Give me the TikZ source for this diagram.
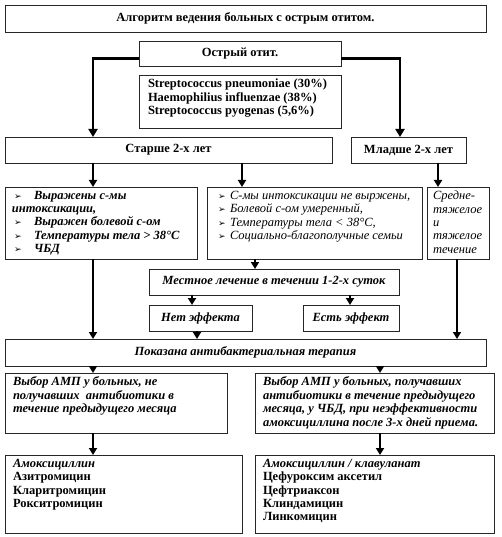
\documentclass[tikz,border=0pt]{standalone}
\usepackage{fontspec}
\setmainfont{Liberation Serif}
\newfontfamily\dingfont{DejaVu Sans}
\usetikzlibrary{arrows.meta}

% text held at the top of a box of fixed size
\newcommand{\boxtext}[3]{\parbox[c][#2][t]{#1}{\raggedright #3}}
\newcommand{\bul}[1]{\makebox[#1][l]{\hspace{2pt}\dingfont\fontsize{9}{9}\selectfont ➢}}

\begin{document}
\begin{tikzpicture}[
  x=1pt, y=-1pt,
  box/.style={draw=black!85, line width=0.8pt, inner sep=0pt, outer sep=0pt,
    font=\fontsize{12.5}{13.4}\selectfont\bfseries},
  ibox/.style={box, font=\fontsize{12.5}{13.4}\selectfont\bfseries\itshape},
  padbox/.style={box, inner xsep=8pt, inner ysep=4pt},
  arr/.style={line width=2pt, -{Triangle[width=8pt,length=7pt]}},
  thickarr/.style={line width=2.6pt, -{Triangle[width=9pt,length=8pt]}}
]
  \useasboundingbox (0,0) rectangle (502,537);

  % columns of the arrows
  \coordinate (c1) at (93,0);
  \coordinate (c2) at (242,0);
  \coordinate (c3) at (255,0);
  \coordinate (c4) at (400,0);
  \coordinate (c5) at (438,0);
  \coordinate (c6) at (457,0);
  \coordinate (c7) at (192,0);
  \coordinate (c8) at (350,0);
  \coordinate (c9) at (197,0);
  \coordinate (c10) at (380,0);

  % boxes
  \node[box, minimum width=481pt, minimum height=27pt] (title) at (245.5,18.5) {Алгоритм ведения больных с острым отитом.};
  \node[box, minimum width=202pt, minimum height=25pt] (otitis) at (240,53.5) {Острый отит.};
  \node[padbox, inner xsep=9pt] (flora) at (240,101.5) {\boxtext{184pt}{45pt}{Streptococcus pneumoniae (30\%)\\Haemophilius influenzae (38\%)\\Streptococcus pyogenas (5,6\%)}};
  \node[box, minimum width=327pt, minimum height=26pt] (older) at (168.5,150) {Старше 2-х лет};
  \node[box, minimum width=115pt, minimum height=26pt] (younger) at (408.5,150) {Младше 2-х лет};

  \node[padbox, inner xsep=7pt] (signsA) at (101,223) {\boxtext{178pt}{64pt}{\itshape
    \bul{22pt}Выражены с-мы\\интоксикации,\\
    \bul{22pt}Выражен болевой с-ом\\
    \bul{22pt}Температуры тела > 38°С\\
    \bul{22pt}ЧБД}};
  \node[padbox, inner xsep=9pt] (signsB) at (314.5,223) {\boxtext{197pt}{64pt}{\mdseries\itshape
    \bul{14pt}С-мы интоксикации не выржены,\\
    \bul{14pt}Болевой с-ом умеренный,\\
    \bul{14pt}Температуры тела < 38°С,\\
    \bul{14pt}Социально-благополучные семьи}};
  \node[padbox, inner xsep=6pt] (signsC) at (458,223) {\boxtext{50pt}{64pt}{\mdseries\itshape
    Средне-\\тяжелое\\и\\тяжелое\\течение}};

  \node[ibox, minimum width=250pt, minimum height=26pt] (local) at (274,282) {Местное лечение в течении 1-2-х суток};
  \node[ibox, minimum width=103pt, minimum height=26pt] (noeff) at (200.5,318) {Нет эффекта};
  \node[ibox, minimum width=96pt, minimum height=26pt] (haseff) at (351,318) {Есть эффект};
  \node[ibox, minimum width=481pt, minimum height=27pt] (therapy) at (245.5,352.5) {Показана антибактериальная терапия};

  \node[padbox] (choiceA) at (116,403) {\boxtext{206pt}{52pt}{\itshape
    Выбор АМП у больных, не\\получавших~ антибиотики в\\течение предыдущего месяца}};
  \node[padbox] (choiceB) at (374.5,403) {\boxtext{223pt}{52pt}{\itshape
    Выбор АМП у больных, получавших\\антибиотики в течение предыдущего\\месяца, у ЧБД, при неэффективности\\амоксициллина после 3-х дней приема.}};

  \node[padbox] (drugsA) at (123.5,494) {\boxtext{221pt}{70pt}{\textit{Амоксициллин}\\
    Азитромицин\\Кларитромицин\\Рокситромицин}};
  \node[padbox] (drugsB) at (374.5,494) {\boxtext{223pt}{70pt}{\textit{Амоксициллин / клавуланат}\\
    Цефуроксим аксетил\\Цефтриаксон\\Клиндамицин\\Линкомицин}};

  % arrows
  \draw[thickarr] ([yshift=-5pt]otitis.west) -| (older.north -| c1);
  \draw[thickarr] ([yshift=-5pt]otitis.east) -| (younger.north -| c4);
  \draw[arr] (older.south -| c1) -- (signsA.north -| c1);
  \draw[arr] (older.south -| c2) -- (signsB.north -| c2);
  \draw[arr] (younger.south -| c5) -- (signsC.north -| c5);
  \draw[arr] (signsB.south -| c3) -- (local.north -| c3);
  \draw[arr] (signsA.south -| c1) -- (therapy.north -| c1);
  \draw[arr] (signsC.south -| c6) -- (therapy.north -| c6);
  \draw[arr] (local.south -| c7) -- (noeff.north -| c7);
  \draw[arr] (local.south -| c8) -- (haseff.north -| c8);
  \draw[arr] (noeff.south -| c9) -- (therapy.north -| c9);
  \draw[arr] (therapy.south -| c1) -- (choiceA.north -| c1);
  \draw[arr] (therapy.south -| c10) -- (choiceB.north -| c10);
  \draw[arr] (choiceA.south -| c1) -- (drugsA.north -| c1);
  \draw[arr] (choiceB.south -| c10) -- (drugsB.north -| c10);
\end{tikzpicture}
\end{document}
